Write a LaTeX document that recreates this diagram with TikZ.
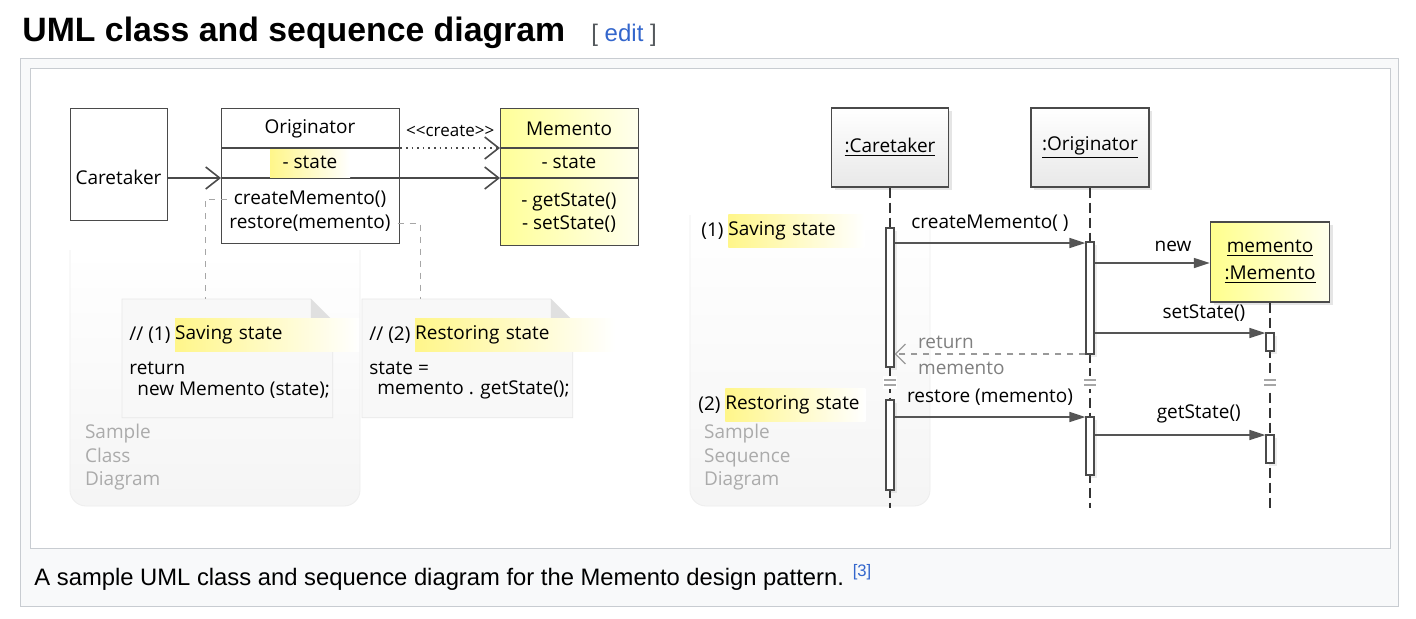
\documentclass[tikz,border=0pt]{standalone}
\usepackage{fontspec}
\setmainfont{Open Sans}
\newfontfamily\wikifont{Liberation Sans}
\usetikzlibrary{arrows.meta,positioning,shadows,calc}
\definecolor{wikiblue}{HTML}{3366CC}
\definecolor{wikigray}{HTML}{54595D}
\definecolor{frameline}{HTML}{C8CCD1}
\definecolor{framebg}{HTML}{F8F9FA}
\definecolor{umlline}{HTML}{4A4A4A}
\definecolor{msgline}{HTML}{555555}
\definecolor{notefill}{HTML}{F8F8F8}
\definecolor{hilite}{HTML}{FFF68A}
\tikzset{
  umlfont/.style={font=\fontsize{9.5}{11.5}\selectfont},
  classbox/.style={draw=umlline, line width=0.7pt, anchor=north west, inner sep=0pt},
  assoc/.style={draw=umlline, line width=0.8pt, -{Straight Barb[length=7pt,width=11pt]}},
  createdep/.style={draw=umlline, line width=0.8pt, dotted, -{Straight Barb[length=7pt,width=11pt]}},
  noteline/.style={draw=black!35, dashed, line width=0.5pt},
  notebody/.style={minimum width=105pt, minimum height=59pt, anchor=north west, inner sep=0pt},
  stepmark/.style={anchor=west, inner xsep=0pt},
  hiband/.style={left color=hilite, right color=white, anchor=west, inner xsep=0pt, inner ysep=3.5pt, align=left},
  headbox/.style={draw=umlline, line width=0.7pt, inner sep=0pt, top color=white, bottom color=black!9,
    drop shadow={opacity=0.2, shadow xshift=1.5pt, shadow yshift=-1.5pt}},
  lifeline/.style={draw=black!80, line width=0.7pt, dash pattern=on 5pt off 2.5pt},
  actbar/.style={draw=umlline, fill=white, line width=0.6pt, minimum width=4pt, inner sep=0pt,
    drop shadow={opacity=0.15, shadow xshift=1.5pt, shadow yshift=-1.5pt}},
  callmsg/.style={draw=msgline, line width=0.8pt, -{Triangle[length=8pt,width=5pt]}},
  returnmsg/.style={draw=black!40, line width=0.6pt, dashed, -{Straight Barb[length=5pt,width=10pt]}},
  mutedtext/.style={text=black!33},
}
\begin{document}
\begin{tikzpicture}[x=0.5pt, y=-0.5pt, every node/.style={umlfont}]
  \useasboundingbox (0,0) rectangle (1416,618);
  % page heading, frame and caption
  \node[anchor=base west, inner sep=0pt, font=\wikifont\bfseries\fontsize{16.9}{20}\selectfont] (title) at (22,41) {UML class and sequence diagram};
  \node[anchor=base west, inner sep=0pt, font=\wikifont\fontsize{12}{14}\selectfont, text=wikigray] (edit) at (591,41) {[ \textcolor{wikiblue}{edit} ]};
  \draw[frameline, fill=framebg] (20,58) rectangle (1398,606);
  \draw[frameline, fill=white] (30,68) rectangle (1390,548);
  \node[anchor=base west, inner sep=0pt, font=\wikifont\fontsize{11.9}{14}\selectfont] (caption) at (34,585)
    {A sample UML class and sequence diagram for the Memento design pattern. \textsuperscript{\textcolor{wikiblue}{[3]}}};

  % faint panels behind both diagrams
  \shade[top color=white, bottom color=black!4, rounded corners=8pt] (70,250) rectangle (360,506);
  \draw[black!7, rounded corners=8pt] (70,250) -- (70,506) -- (360,506) -- (360,250);
  \shade[top color=white, bottom color=black!4, rounded corners=8pt] (690,215) rectangle (930,506);
  \draw[black!7, rounded corners=8pt] (690,215) -- (690,506) -- (930,506) -- (930,215);

  % ---- class diagram
  \node[classbox, fill=white, minimum width=48.5pt, minimum height=56pt] (caretaker) at (70,108) {};
  \node (caretakerName) at (118.5,177) {Caretaker};
  \node[classbox, fill=white, minimum width=89pt, minimum height=67.5pt] (originator) at (221,108) {};
  \draw[umlline, line width=0.7pt] (originator.west |- 0,148) -- (originator.east |- 0,148);
  \draw[umlline, line width=0.7pt] (originator.west |- 0,178) -- (originator.east |- 0,178);
  \shade[left color=hilite, right color=white] (270,149) rectangle (350,177);
  \node (originatorName) at (310,129) {Originator};
  \node (originatorState) at (310,162) {- state};
  \node (createM) at (310,199) {createMemento()};
  \node (restoreM) at (310,223) {restore(memento)};
  \node[classbox, left color=yellow!40, right color=yellow!7, minimum width=69pt, minimum height=68.5pt] (memento) at (500,108) {};
  \draw[umlline, line width=0.7pt] (memento.west |- 0,148) -- (memento.east |- 0,148);
  \draw[umlline, line width=0.7pt] (memento.west |- 0,178) -- (memento.east |- 0,178);
  \node (mementoName) at (569,129) {Memento};
  \node (mementoState) at (569,162) {- state};
  \node (getStateOp) at (569,202) {- getState()};
  \node (setStateOp) at (569,224) {- setState()};
  \draw[assoc] (caretaker.east |- 0,178) -- (originator.west |- 0,178);
  \draw[assoc] (originator.east |- 0,178) -- (memento.west |- 0,178);
  \draw[createdep] (originator.east |- 0,148) -- node[above=2pt, font=\fontsize{8.5}{9}\selectfont] (createLbl)
    {\textless\kern0pt\textless create\textgreater\kern0pt\textgreater} (memento.west |- 0,148);

  % notes
  \node[notebody] (saveNote) at (122,299) {};
  \node[notebody] (restoreNote) at (362,299) {};
  \foreach \nn in {saveNote,restoreNote} {
    \filldraw[fill=notefill, draw=black!9, line width=0.4pt] (\nn.north west) -- ([xshift=-11pt]\nn.north east)
      -- ([yshift=-11pt]\nn.north east) -- (\nn.south east) -- (\nn.south west) -- cycle;
    \fill[black!12] ([xshift=-11pt]\nn.north east) -- ([yshift=-11pt]\nn.north east)
      -- ([xshift=-11pt,yshift=-11pt]\nn.north east) -- cycle;
  }
  \coordinate (createBend) at (205,199);
  \coordinate (restoreBend) at (420,223);
  \draw[noteline] (createM.west) -- (createBend) -- (createBend |- saveNote.north);
  \draw[noteline] (restoreM.east) -- (restoreBend) -- (restoreBend |- restoreNote.north);
  \node[stepmark] (saveCmt) at (129,335) {//~(1)};
  \node[hiband, text width=92pt, right=2pt of saveCmt] (saveHi) {Saving state};
  \node[anchor=west, inner xsep=0pt] (saveCode1) at (129,368) {return};
  \node[anchor=west, inner xsep=0pt] (saveCode2) at (137,390) {new Memento (state);};
  \node[stepmark] (restoreCmt) at (369,335) {//~(2)};
  \node[hiband, text width=100pt, right=2pt of restoreCmt] (restoreHi) {Restoring state};
  \node[anchor=west, inner xsep=0pt] (restoreCode1) at (369,368) {state =};
  \node[anchor=west, inner xsep=0pt] (restoreCode2) at (377,390) {memento . getState();};
  \node[mutedtext, anchor=north west, align=left, font=\fontsize{9.5}{11.75}\selectfont] (classTag) at (78,417) {Sample\\Class\\Diagram};

  % ---- sequence diagram
  \node[headbox, minimum width=58.5pt, minimum height=39.5pt] (ctHead) at (890,147.5) {\underline{:Caretaker}};
  \node[headbox, minimum width=59pt, minimum height=39.5pt] (orHead) at (1090,147.5) {\underline{:Originator}};
  \node[headbox, left color=yellow!45, right color=yellow!7, minimum width=59.5pt, minimum height=40pt, align=center]
    (meHead) at (1270,262) {\underline{memento}\\[2pt]\underline{:Memento}};
  \draw[lifeline] (ctHead.south) -- (ctHead.south |- 0,508);
  \draw[lifeline] (orHead.south) -- (orHead.south |- 0,508);
  \draw[lifeline] (meHead.south) -- (meHead.south |- 0,508);
  \foreach \lx in {890,1090,1270} {
    \fill[white] (\lx-7,376) rectangle (\lx+7,389);
    \draw[black!35, line width=0.6pt] (\lx-6,380) -- (\lx+6,380) (\lx-6,385) -- (\lx+6,385);
  }
  \node[actbar, minimum height=69.5pt] (ctAct1) at (890,297.5) {};
  \node[actbar, minimum height=45pt] (ctAct2) at (890,445) {};
  \node[actbar, minimum height=56pt] (orAct1) at (1090,298) {};
  \node[actbar, minimum height=29pt] (orAct2) at (1090,446) {};
  \node[actbar, minimum height=9pt] (meAct1) at (1270,342) {};
  \node[actbar, minimum height=14pt] (meAct2) at (1270,449) {};
  \draw[callmsg] (ctAct1.east |- 0,243) -- node[above=2pt] (createMsg) {createMemento( )} (orAct1.west |- 0,243);
  \draw[callmsg] (orAct1.east |- 0,263) -- node[pos=0.68, above=2pt] (newMsg) {new} (meHead.west |- 0,263);
  \draw[callmsg] (orAct1.east |- 0,333) -- node[pos=0.64, above=2pt] (setMsg) {setState()} (meAct1.west |- 0,333);
  \draw[returnmsg] (orAct1.west |- 0,354) -- (ctAct1.east |- 0,354);
  \node[anchor=west, text=black!50] (retLbl) at (911,342) {return};
  \node[anchor=west, text=black!50] (retVal) at (911,368) {memento};
  \draw[callmsg] (ctAct2.east |- 0,417) -- node[above=2pt] (restoreMsg) {restore (memento)} (orAct2.west |- 0,417);
  \draw[callmsg] (orAct2.east |- 0,435) -- node[pos=0.61, above=2pt] (getMsg) {getState()} (meAct2.west |- 0,435);
  \node[stepmark] (saveStep) at (701,231) {(1)};
  \node[hiband, text width=68pt, right=2pt of saveStep] (saveStepHi) {Saving state};
  \node[stepmark] (restoreStep) at (698,405) {(2)};
  \node[hiband, text width=70pt, right=2pt of restoreStep] (restoreStepHi) {Restoring state};
  \node[mutedtext, anchor=north west, align=left, font=\fontsize{9.5}{11.75}\selectfont] (seqTag) at (697,417) {Sample\\Sequence\\Diagram};
\end{tikzpicture}
\end{document}
